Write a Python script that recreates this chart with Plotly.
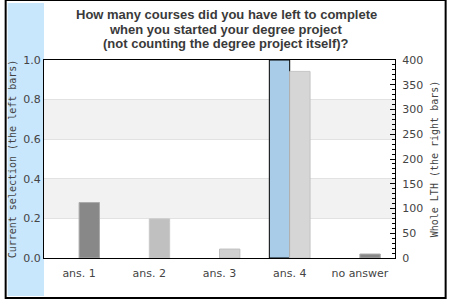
import plotly.graph_objects as go

categories = ["ans. 1", "ans. 2", "ans. 3", "ans. 4", "no answer"]
current_selection = [0, 0, 0, 1.0, 0]
whole_lth = [112, 79, 18, 377, 8]
lth_colors = ["#888888", "#c0c0c0", "#d0d0d0", "#d6d6d6", "#888888"]
lth_line_colors = ["#aaaaaa", "#c8c8c8", "#bdbdbd", "#c4c4c4", "#aaaaaa"]
title_lines = [
    "How many courses did you have left to complete",
    "when you started your degree project",
    "(not counting the degree project itself)?",
]
left_title = "Current selection (the left bars)"
right_title = "Whole LTH (the right bars)"

W, H = 450, 300
L, R, T, B = 40, 397, 60, 258
PW, PH = R - L, B - T


def px(x):
    return (x - L) / PW


def py(y):
    return (B - y) / PH


fig = go.Figure()
fig.add_trace(go.Bar(
    x=categories, y=current_selection, yaxis="y",
    offset=-0.29, width=0.29, offsetgroup="a",
    marker=dict(color="#a9cde9",
                line=dict(color="black", width=[1 if v else 0 for v in current_selection])),
    showlegend=False,
))
fig.add_trace(go.Bar(
    x=categories, y=whole_lth, yaxis="y2",
    offset=0.0, width=0.29, offsetgroup="b",
    marker=dict(color=lth_colors, line=dict(color=lth_line_colors, width=1)),
    showlegend=False,
))

shapes = [
    dict(type="rect", xref="paper", yref="paper", x0=px(3), x1=0, y0=py(296), y1=py(3),
         fillcolor="#c8e6fc", line=dict(width=0), layer="below"),
    dict(type="rect", xref="paper", yref="y", x0=0, x1=1, y0=0.2, y1=0.4,
         fillcolor="#f2f2f2", line=dict(width=0), layer="below"),
    dict(type="rect", xref="paper", yref="y", x0=0, x1=1, y0=0.6, y1=0.8,
         fillcolor="#f2f2f2", line=dict(width=0), layer="below"),
    dict(type="rect", xref="paper", yref="paper", x0=px(1), x1=px(448.5), y0=py(298), y1=py(0),
         line=dict(color="black", width=2), fillcolor="rgba(0,0,0,0)"),
]

annotations = []
for i, t in enumerate(title_lines):
    annotations.append(dict(
        text="<b>" + t + "</b>", xref="paper", yref="paper",
        x=px(225.5), y=py(14 + 15 * i), xanchor="center", yanchor="middle",
        showarrow=False, font=dict(family="Liberation Sans, Arial", size=13, color="#3a3a3a"),
    ))

fig.update_layout(
    width=W, height=H,
    margin=dict(l=L, r=W - R, t=T, b=H - B, pad=0),
    paper_bgcolor="white", plot_bgcolor="rgba(0,0,0,0)",
    barmode="group",
    shapes=shapes, annotations=annotations,
    font=dict(family="DejaVu Sans", size=11, color="#444444"),
    xaxis=dict(
        type="category", showline=True, linecolor="black", linewidth=1, mirror=True,
        ticks="", showgrid=False, tickfont=dict(family="DejaVu Sans", size=11, color="#444444"),
        range=[-0.5, 4.5], ticklabelstandoff=5,
    ),
    yaxis=dict(
        range=[0, 1], dtick=0.2, tickformat=".1f", showline=True, linecolor="black",
        linewidth=1, ticks="", showgrid=True, gridcolor="#e2e2e2", gridwidth=1,
        zeroline=False, tickfont=dict(family="DejaVu Sans", size=11, color="#444444"),
        title=dict(text=left_title, font=dict(family="DejaVu Sans Mono", size=10, color="#444444"),
                   standoff=4),
    ),
    yaxis2=dict(
        range=[0, 400], dtick=50, overlaying="y", side="right", showline=True,
        linecolor="black", linewidth=1, ticks="inside", ticklen=5, tickcolor="black",
        minor=dict(dtick=10, ticks="inside", ticklen=3, tickcolor="black"),
        showgrid=False, zeroline=False, ticklabelstandoff=4,
        tickfont=dict(family="DejaVu Sans", size=11, color="#444444"),
        title=dict(text=right_title, font=dict(family="DejaVu Sans Mono", size=10, color="#444444"),
                   standoff=8),
    ),
)

fig.write_html("out.html")
